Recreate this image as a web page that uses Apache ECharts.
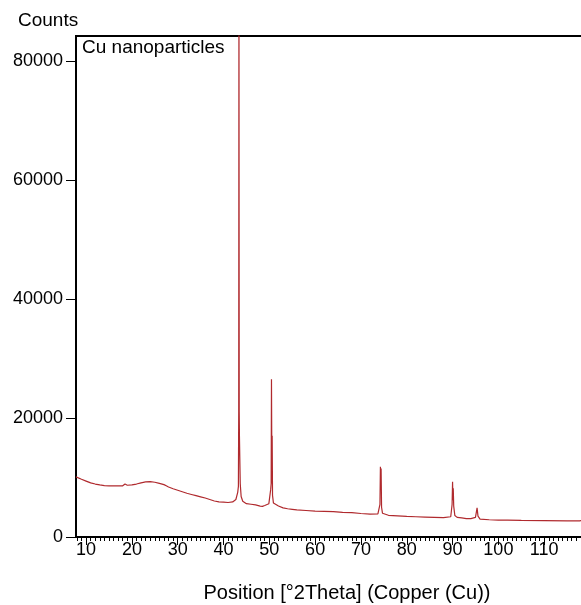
<!DOCTYPE html>
<html>
<head>
<meta charset="utf-8">
<script src="https://cdn.jsdelivr.net/npm/echarts@6/dist/echarts.min.js"></script>
<style>
html,body{margin:0;padding:0;background:#fff;}
#chart{width:581px;height:605px;}
</style>
</head>
<body>
<div id="chart"></div>
<script>
var theta = [7.8, 9, 10, 11, 12, 13, 14, 15, 16, 17, 18, 18.5, 18.6, 19, 20, 21, 22, 23, 24, 25, 26, 27, 27.5, 27.6, 28, 29, 30, 31, 32, 33, 34, 35, 36, 37, 38, 39, 40, 41, 42, 42.7, 43.1, 43.25, 43.32, 43.37, 43.43, 43.48, 43.55, 43.65, 43.85, 44.2, 45, 46, 47, 48, 48.5, 49, 49.9, 50.3, 50.4, 50.47, 50.52, 50.57, 50.62, 50.7, 50.9, 51.3, 52, 53, 54, 55, 56, 58, 60, 62, 64, 66, 68, 70, 72, 73.7, 74.15, 74.25, 74.33, 74.4, 74.5, 74.7, 75.1, 76, 78, 80, 82, 84, 86, 88, 89.6, 89.9, 90.0, 90.08, 90.15, 90.25, 90.5, 91, 92, 93, 94, 95.0, 95.35, 95.55, 96, 98, 100, 102, 105, 110, 115, 117.7, 117.9, 120];
var counts = [10100, 9700, 9400, 9100, 8900, 8750, 8650, 8600, 8600, 8600, 8600, 8900, 8600, 8700, 8750, 8900, 9100, 9250, 9300, 9200, 9000, 8800, 8600, 8900, 8400, 8100, 7850, 7600, 7350, 7150, 6950, 6750, 6550, 6300, 6050, 5900, 5850, 5800, 5900, 6300, 7500, 8500, 21000, 95000, 21000, 16800, 16800, 9000, 6800, 6000, 5600, 5500, 5400, 5200, 5150, 5300, 5600, 8000, 9000, 26500, 18000, 9000, 17000, 7000, 5700, 5400, 5200, 4900, 4750, 4650, 4550, 4450, 4350, 4300, 4250, 4150, 4100, 3950, 3850, 3900, 5500, 11800, 9500, 11500, 5000, 4000, 3750, 3650, 3550, 3450, 3400, 3350, 3300, 3250, 3400, 5500, 9300, 6200, 8200, 5200, 3600, 3300, 3200, 3100, 3100, 3300, 4900, 3500, 3000, 2900, 2850, 2850, 2800, 2750, 2700, 2700, 3000, 3000];
var xLabelValues = [10, 20, 30, 40, 50, 60, 70, 80, 90, 100, 110];
var yLabelValues = [0, 20000, 40000, 60000, 80000];
var sampleName = 'Cu nanoparticles';
var yTitle = 'Counts';
var xTitle = 'Position [°2Theta] (Copper (Cu))';

var xMin = 7.8, xMax = 120, yMax = 84200;
var minorTicks = [];
for (var t = 8; t <= 120; t++) minorTicks.push(t);

var pts = theta.map(function (x, i) { return [x, counts[i]]; });
var font = '"Liberation Sans", Arial, sans-serif';

var chart = echarts.init(document.getElementById('chart'), null, {renderer: 'canvas'});
chart.setOption({
  animation: false,
  backgroundColor: '#fff',
  grid: {left: 76, top: 36, height: 501, width: 514, containLabel: false, outerBoundsMode: 'none',
    show: true, borderColor: '#000', borderWidth: 2, backgroundColor: 'transparent'},
  xAxis: [{
    type: 'value', min: xMin, max: xMax,
    axisLine: {show: true, onZero: false, lineStyle: {color: '#000', width: 2}},
    axisTick: {show: true, length: 8, customValues: xLabelValues, lineStyle: {color: '#000', width: 1}},
    axisLabel: {customValues: xLabelValues, color: '#000', fontSize: 18, fontFamily: font, margin: 4},
    splitLine: {show: false},
    name: xTitle, nameLocation: 'middle', nameGap: 46,
    nameTextStyle: {color: '#000', fontSize: 20, fontFamily: font, padding: [0, 0, 0, 28]}
  }, {
    type: 'value', min: xMin, max: xMax, position: 'bottom',
    axisLine: {show: false},
    axisTick: {show: true, length: 4, customValues: minorTicks, lineStyle: {color: '#000', width: 1}},
    axisLabel: {show: false},
    splitLine: {show: false}
  }],
  yAxis: {
    type: 'value', min: 0, max: yMax,
    axisLine: {show: true, lineStyle: {color: '#000', width: 2}},
    axisTick: {show: true, length: 10, customValues: yLabelValues, lineStyle: {color: '#000', width: 1}},
    axisLabel: {customValues: yLabelValues, color: '#000', fontSize: 18, fontFamily: font, margin: 13,
      formatter: function (v) { return String(v); }},
    splitLine: {show: false}
  },
  graphic: [
    {type: 'text', left: 18, top: 11, style: {text: yTitle, fill: '#000', font: '19px ' + font}},
    {type: 'text', left: 82, top: 38, style: {text: sampleName, fill: '#000', font: '19px ' + font}}
  ],
  series: [{
    type: 'line', xAxisIndex: 0, data: pts, showSymbol: false, symbol: 'none', clip: true,
    lineStyle: {color: '#b02a2e', width: 1.2}
  }]
});
</script>
</body>
</html>
